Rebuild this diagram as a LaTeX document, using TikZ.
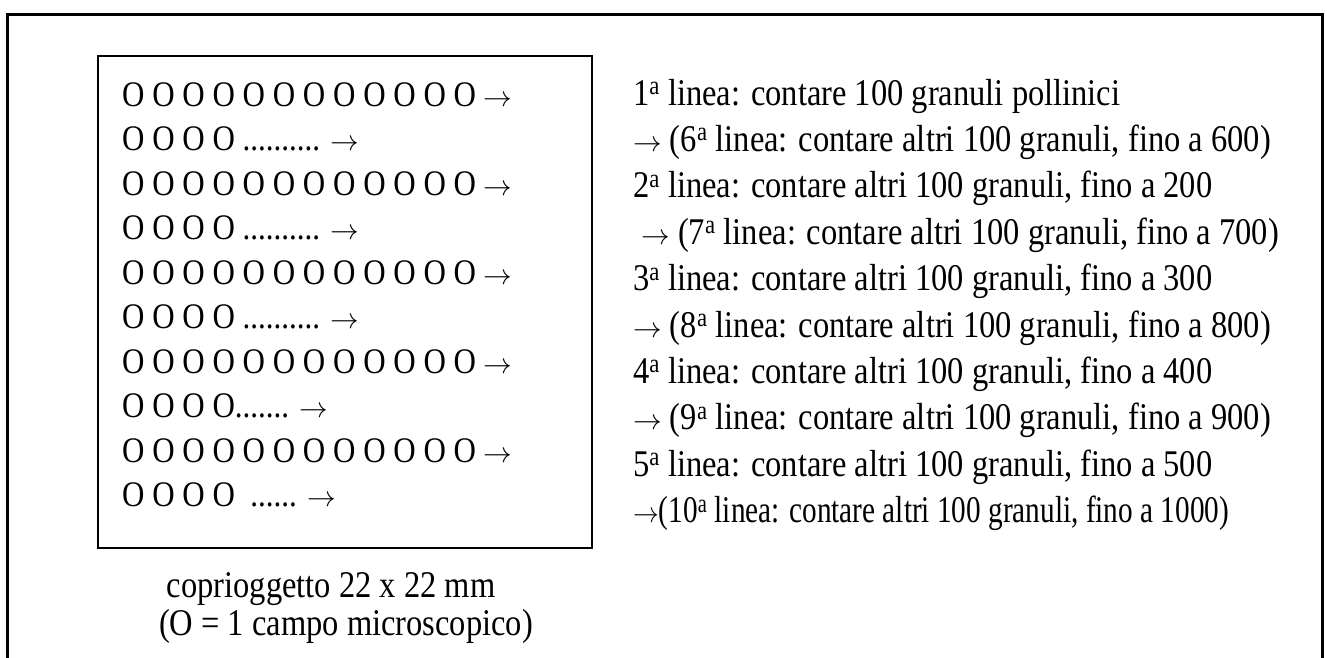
\documentclass[tikz,border=0pt]{standalone}
\usepackage{fontspec}
\setmainfont{Liberation Serif}
\newcommand{\arr}{\scalebox{1.15}[1]{$\rightarrow$}}
\newcommand{\tall}[1]{\scalebox{1}[1.16]{#1}}
\begin{document}
\begin{tikzpicture}[x=1pt,y=-1pt,
  rowtxt/.style={anchor=base west,inner sep=0pt,font=\fontsize{31}{31}\selectfont},
  txt/.style={anchor=base west,inner sep=0pt,font=\fontsize{32.5}{32.5}\selectfont},
  captxt/.style={anchor=base,inner sep=0pt,font=\fontsize{32.5}{32.5}\selectfont},
  frame/.style={line width=3pt},
  slidebox/.style={draw,line width=2pt,minimum width=494pt,minimum height=492pt,inner sep=0pt,anchor=north west}]
\useasboundingbox (0,0) rectangle (1327,657);
\draw[frame] (7.5,670) -- (7.5,14.5) -- (1322.5,14.5) -- (1322.5,670);
\node[slidebox] (slide) at (97,55) {};
% rows of microscope fields
\node[rowtxt] (r1) at (122,106) {\tall{O O O O O O O O O O O O \arr}};
\node[rowtxt] (r2) at (122,150.5) {\tall{O O O O .......... \arr}};
\node[rowtxt] (r3) at (122,195) {\tall{O O O O O O O O O O O O \arr}};
\node[rowtxt] (r4) at (122,239.5) {\tall{O O O O .......... \arr}};
\node[rowtxt] (r5) at (122,284) {\tall{O O O O O O O O O O O O \arr}};
\node[rowtxt] (r6) at (122,328.5) {\tall{O O O O .......... \arr}};
\node[rowtxt] (r7) at (122,373) {\tall{O O O O O O O O O O O O \arr}};
\node[rowtxt] (r8) at (122,417.5) {\tall{O O O O....... \arr}};
\node[rowtxt] (r9) at (122,462) {\tall{O O O O O O O O O O O O \arr}};
\node[rowtxt] (r10) at (122,506.5) {\tall{O O O O \ ...... \arr}};
% captions
\node[captxt] (c1) at (331,597) {\tall{coprioggetto 22 x 22 mm}};
\node[captxt] (c2) at (346,635) {\tall{(O = 1 campo microscopico)}};
% right column
\node[txt] (l1) at (633,105) {\tall{1\textsuperscript{a} linea: contare 100 granuli pollinici}};
\node[txt] (l2) at (633,151.4) {\tall{\arr\ (6\textsuperscript{a} linea: contare altri 100 granuli, fino a 600)}};
\node[txt] (l3) at (633,197.8) {\tall{2\textsuperscript{a} linea: contare altri 100 granuli, fino a 200}};
\node[txt] (l4) at (633,244.2) {\tall{\ \arr\ (7\textsuperscript{a} linea: contare altri 100 granuli, fino a 700)}};
\node[txt] (l5) at (633,290.6) {\tall{3\textsuperscript{a} linea: contare altri 100 granuli, fino a 300}};
\node[txt] (l6) at (633,337) {\tall{\arr\ (8\textsuperscript{a} linea: contare altri 100 granuli, fino a 800)}};
\node[txt] (l7) at (633,383.4) {\tall{4\textsuperscript{a} linea: contare altri 100 granuli, fino a 400}};
\node[txt] (l8) at (633,429.8) {\tall{\arr\ (9\textsuperscript{a} linea: contare altri 100 granuli, fino a 900)}};
\node[txt] (l9) at (633,476.2) {\tall{5\textsuperscript{a} linea: contare altri 100 granuli, fino a 500}};
\node[txt] (l10) at (633,522.6) {\scalebox{0.9}[1.16]{\arr(10\textsuperscript{a} linea: contare altri 100 granuli, fino a 1000)}};
\end{tikzpicture}
\end{document}
